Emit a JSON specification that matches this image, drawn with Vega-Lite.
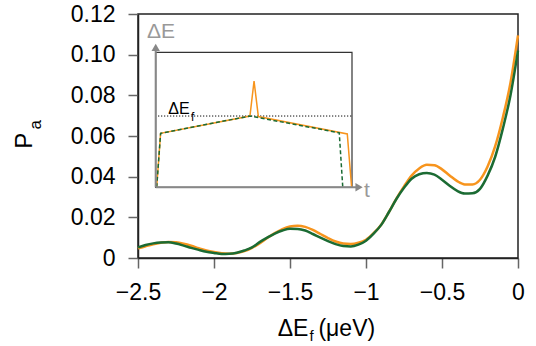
{
  "$schema": "https://vega.github.io/schema/vega-lite/v6.json",
  "width": 380,
  "height": 244,
  "autosize": {"type": "none"},
  "padding": {"left": 138, "top": 14, "right": 18, "bottom": 88},
  "background": "white",
  "config": {
    "font": "Liberation Sans",
    "view": {"stroke": "#222", "strokeWidth": 1.5},
    "axis": {
      "grid": false,
      "domainColor": "#222",
      "domainWidth": 1.5,
      "tickColor": "#666",
      "tickWidth": 1.5,
      "tickSize": 10,
      "labelFont": "Liberation Sans",
      "labelFontSize": 23,
      "labelColor": "#000",
      "labelPadding": 13,
      "labelFlush": false,
      "labelOverlap": false
    },
    "text": {"font": "Liberation Sans"}
  },
  "datasets": {
    "curves": [
      {"dEf": -2.50, "Pa_orange": 0.0047, "Pa_green": 0.0052},
      {"dEf": -2.45, "Pa_orange": 0.0058, "Pa_green": 0.0064},
      {"dEf": -2.40, "Pa_orange": 0.0068, "Pa_green": 0.0072},
      {"dEf": -2.35, "Pa_orange": 0.0075, "Pa_green": 0.0076},
      {"dEf": -2.30, "Pa_orange": 0.0079, "Pa_green": 0.0077},
      {"dEf": -2.25, "Pa_orange": 0.0077, "Pa_green": 0.0071},
      {"dEf": -2.20, "Pa_orange": 0.0070, "Pa_green": 0.0061},
      {"dEf": -2.15, "Pa_orange": 0.0060, "Pa_green": 0.0050},
      {"dEf": -2.10, "Pa_orange": 0.0048, "Pa_green": 0.0040},
      {"dEf": -2.05, "Pa_orange": 0.0037, "Pa_green": 0.0031},
      {"dEf": -2.00, "Pa_orange": 0.0029, "Pa_green": 0.0025},
      {"dEf": -1.95, "Pa_orange": 0.0023, "Pa_green": 0.0020},
      {"dEf": -1.90, "Pa_orange": 0.0021, "Pa_green": 0.0021},
      {"dEf": -1.85, "Pa_orange": 0.0025, "Pa_green": 0.0026},
      {"dEf": -1.80, "Pa_orange": 0.0034, "Pa_green": 0.0037},
      {"dEf": -1.75, "Pa_orange": 0.0050, "Pa_green": 0.0052},
      {"dEf": -1.70, "Pa_orange": 0.0072, "Pa_green": 0.0078},
      {"dEf": -1.65, "Pa_orange": 0.0098, "Pa_green": 0.0100},
      {"dEf": -1.60, "Pa_orange": 0.0122, "Pa_green": 0.0120},
      {"dEf": -1.55, "Pa_orange": 0.0142, "Pa_green": 0.0135},
      {"dEf": -1.50, "Pa_orange": 0.0155, "Pa_green": 0.0144},
      {"dEf": -1.45, "Pa_orange": 0.0159, "Pa_green": 0.0143},
      {"dEf": -1.40, "Pa_orange": 0.0153, "Pa_green": 0.0135},
      {"dEf": -1.35, "Pa_orange": 0.0138, "Pa_green": 0.0118},
      {"dEf": -1.30, "Pa_orange": 0.0118, "Pa_green": 0.0100},
      {"dEf": -1.25, "Pa_orange": 0.0098, "Pa_green": 0.0083},
      {"dEf": -1.20, "Pa_orange": 0.0081, "Pa_green": 0.0068},
      {"dEf": -1.15, "Pa_orange": 0.0071, "Pa_green": 0.0059},
      {"dEf": -1.10, "Pa_orange": 0.0069, "Pa_green": 0.0057},
      {"dEf": -1.05, "Pa_orange": 0.0075, "Pa_green": 0.0066},
      {"dEf": -1.00, "Pa_orange": 0.0090, "Pa_green": 0.0085},
      {"dEf": -0.95, "Pa_orange": 0.0122, "Pa_green": 0.0120},
      {"dEf": -0.90, "Pa_orange": 0.0164, "Pa_green": 0.0163},
      {"dEf": -0.85, "Pa_orange": 0.0225, "Pa_green": 0.0225},
      {"dEf": -0.80, "Pa_orange": 0.0292, "Pa_green": 0.0290},
      {"dEf": -0.75, "Pa_orange": 0.0352, "Pa_green": 0.0345},
      {"dEf": -0.70, "Pa_orange": 0.0405, "Pa_green": 0.0390},
      {"dEf": -0.65, "Pa_orange": 0.0440, "Pa_green": 0.0412},
      {"dEf": -0.60, "Pa_orange": 0.0458, "Pa_green": 0.0418},
      {"dEf": -0.55, "Pa_orange": 0.0456, "Pa_green": 0.0410},
      {"dEf": -0.50, "Pa_orange": 0.0436, "Pa_green": 0.0385},
      {"dEf": -0.45, "Pa_orange": 0.0406, "Pa_green": 0.0355},
      {"dEf": -0.40, "Pa_orange": 0.0378, "Pa_green": 0.0330},
      {"dEf": -0.35, "Pa_orange": 0.0362, "Pa_green": 0.0317},
      {"dEf": -0.30, "Pa_orange": 0.0362, "Pa_green": 0.0318},
      {"dEf": -0.25, "Pa_orange": 0.0385, "Pa_green": 0.0340},
      {"dEf": -0.20, "Pa_orange": 0.0450, "Pa_green": 0.0405},
      {"dEf": -0.15, "Pa_orange": 0.0550, "Pa_green": 0.0498},
      {"dEf": -0.10, "Pa_orange": 0.0690, "Pa_green": 0.0635},
      {"dEf": -0.05, "Pa_orange": 0.0860, "Pa_green": 0.0798},
      {"dEf": 0.00, "Pa_orange": 0.1095, "Pa_green": 0.1020}
    ],
    "pulse": [
      {"trace": "orange", "i": 0, "t": 0.005, "dE": 0.0},
      {"trace": "orange", "i": 1, "t": 0.025, "dE": 0.40},
      {"trace": "orange", "i": 2, "t": 0.480, "dE": 0.528},
      {"trace": "orange", "i": 3, "t": 0.501, "dE": 0.787},
      {"trace": "orange", "i": 4, "t": 0.523, "dE": 0.524},
      {"trace": "orange", "i": 5, "t": 0.976, "dE": 0.395},
      {"trace": "orange", "i": 6, "t": 0.998, "dE": 0.0},
      {"trace": "green", "i": 0, "t": 0.005, "dE": 0.0},
      {"trace": "green", "i": 1, "t": 0.025, "dE": 0.40},
      {"trace": "green", "i": 2, "t": 0.480, "dE": 0.528},
      {"trace": "green", "i": 3, "t": 0.935, "dE": 0.404},
      {"trace": "green", "i": 4, "t": 0.953, "dE": 0.0}
    ]
  },
  "layer": [
    {
      "layer": [
        {
          "data": {"name": "curves"},
          "mark": {"type": "line", "color": "#F7941D", "strokeWidth": 2.5, "interpolate": "monotone"},
          "encoding": {
            "x": {
              "field": "dEf", "type": "quantitative",
              "scale": {"domain": [-2.5, 0], "nice": false, "zero": false},
              "axis": {"title": null, "values": [-2.5, -2, -1.5, -1, -0.5, 0],
                       "labelExpr": "datum.value == 0 ? '0' : replace(format(datum.value, '.1~f'), '-', '\u2212')"}
            },
            "y": {
              "field": "Pa_orange", "type": "quantitative",
              "scale": {"domain": [0, 0.12], "nice": false, "zero": false},
              "axis": {"title": null, "values": [0, 0.02, 0.04, 0.06, 0.08, 0.1, 0.12],
                       "labelExpr": "datum.value == 0 ? '0' : format(datum.value, '.2f')"}
            }
          }
        },
        {
          "data": {"name": "curves"},
          "mark": {"type": "line", "color": "#1B6B33", "strokeWidth": 2.5, "interpolate": "monotone"},
          "encoding": {
            "x": {"field": "dEf", "type": "quantitative", "title": null},
            "y": {"field": "Pa_green", "type": "quantitative", "title": null}
          }
        },
        {
          "data": {"values": [{"label": "P"}]},
          "mark": {"type": "text", "fontSize": 24, "angle": 270, "align": "center", "baseline": "middle", "color": "#000"},
          "encoding": {
            "x": {"datum": -3.245, "type": "quantitative", "title": null},
            "y": {"datum": 0.0577, "type": "quantitative", "title": null},
            "text": {"field": "label"}
          }
        },
        {
          "data": {"values": [{"label": "a"}]},
          "mark": {"type": "text", "fontSize": 17, "angle": 270, "align": "center", "baseline": "middle", "color": "#000"},
          "encoding": {
            "x": {"datum": -3.172, "type": "quantitative", "title": null},
            "y": {"datum": 0.0655, "type": "quantitative", "title": null},
            "text": {"field": "label"}
          }
        },
        {
          "data": {"values": [{"label": "\u0394E"}]},
          "mark": {"type": "text", "fontSize": 23, "align": "right", "baseline": "alphabetic", "color": "#000"},
          "encoding": {
            "x": {"datum": -1.379, "type": "quantitative", "title": null},
            "y": {"datum": -0.0385, "type": "quantitative", "title": null},
            "text": {"field": "label"}
          }
        },
        {
          "data": {"values": [{"label": "f"}]},
          "mark": {"type": "text", "fontSize": 15, "align": "left", "baseline": "alphabetic", "color": "#000"},
          "encoding": {
            "x": {"datum": -1.372, "type": "quantitative", "title": null},
            "y": {"datum": -0.041, "type": "quantitative", "title": null},
            "text": {"field": "label"}
          }
        },
        {
          "data": {"values": [{"label": "(\u03bceV)"}]},
          "mark": {"type": "text", "fontSize": 23, "align": "left", "baseline": "alphabetic", "color": "#000"},
          "encoding": {
            "x": {"datum": -1.313, "type": "quantitative", "title": null},
            "y": {"datum": -0.0385, "type": "quantitative", "title": null},
            "text": {"field": "label"}
          }
        }
      ]
    },
    {
      "layer": [
        {
          "data": {"values": [{"t0": 0, "t1": 1, "e0": 0, "e1": 1}]},
          "mark": {"type": "rect", "fill": "white", "stroke": "#333", "strokeWidth": 1.2},
          "encoding": {
            "x": {"field": "t0", "type": "quantitative", "axis": null,
                  "scale": {"domain": [0, 1], "range": [17.7, 214], "nice": false, "zero": false}},
            "x2": {"field": "t1"},
            "y": {"field": "e0", "type": "quantitative", "axis": null,
                  "scale": {"domain": [0, 1], "range": [173.3, 38.3], "nice": false, "zero": false}},
            "y2": {"field": "e1"}
          }
        },
        {
          "data": {"values": [{"level": 0.528}]},
          "mark": {"type": "rule", "color": "#000", "strokeWidth": 1, "strokeDash": [1.2, 1.8]},
          "encoding": {
            "x": {"datum": 0.012, "type": "quantitative", "axis": null},
            "x2": {"datum": 1},
            "y": {"field": "level", "type": "quantitative", "axis": null}
          }
        },
        {
          "data": {"name": "pulse"},
          "transform": [{"filter": "datum.trace == 'orange'"}],
          "mark": {"type": "line", "color": "#F7941D", "strokeWidth": 1.5},
          "encoding": {
            "x": {"field": "t", "type": "quantitative", "axis": null},
            "y": {"field": "dE", "type": "quantitative", "axis": null},
            "order": {"field": "i"}
          }
        },
        {
          "data": {"name": "pulse"},
          "transform": [{"filter": "datum.trace == 'green'"}],
          "mark": {"type": "line", "color": "#1B6B33", "strokeWidth": 1.5, "strokeDash": [4, 2.5]},
          "encoding": {
            "x": {"field": "t", "type": "quantitative", "axis": null},
            "y": {"field": "dE", "type": "quantitative", "axis": null},
            "order": {"field": "i"}
          }
        },
        {
          "data": {"values": [{"axis": "time", "a0": 0, "a1": 1.03, "b": 0}]},
          "mark": {"type": "rule", "color": "#888", "strokeWidth": 2},
          "encoding": {
            "x": {"field": "a0", "type": "quantitative", "axis": null},
            "x2": {"field": "a1"},
            "y": {"field": "b", "type": "quantitative", "axis": null}
          }
        },
        {
          "data": {"values": [{"axis": "energy", "a0": 0, "a1": 1.03, "b": 0}]},
          "mark": {"type": "rule", "color": "#888", "strokeWidth": 2},
          "encoding": {
            "y": {"field": "a0", "type": "quantitative", "axis": null},
            "y2": {"field": "a1"},
            "x": {"field": "b", "type": "quantitative", "axis": null}
          }
        },
        {
          "data": {"values": [{"t": 1.036, "dE": 0}]},
          "mark": {"type": "point", "shape": "triangle-right", "filled": true, "color": "#888", "size": 70, "opacity": 1},
          "encoding": {
            "x": {"field": "t", "type": "quantitative", "axis": null},
            "y": {"field": "dE", "type": "quantitative", "axis": null}
          }
        },
        {
          "data": {"values": [{"t": 0, "dE": 1.036}]},
          "mark": {"type": "point", "shape": "triangle-up", "filled": true, "color": "#888", "size": 70, "opacity": 1},
          "encoding": {
            "x": {"field": "t", "type": "quantitative", "axis": null},
            "y": {"field": "dE", "type": "quantitative", "axis": null}
          }
        },
        {
          "data": {"values": [{"label": "\u0394E", "t": 0.027, "dE": 1.108}]},
          "mark": {"type": "text", "fontSize": 21, "align": "center", "baseline": "alphabetic", "color": "#999"},
          "encoding": {
            "x": {"field": "t", "type": "quantitative", "axis": null},
            "y": {"field": "dE", "type": "quantitative", "axis": null},
            "text": {"field": "label"}
          }
        },
        {
          "data": {"values": [{"label": "t", "t": 1.061, "dE": -0.07}]},
          "mark": {"type": "text", "fontSize": 21, "align": "left", "baseline": "alphabetic", "color": "#999"},
          "encoding": {
            "x": {"field": "t", "type": "quantitative", "axis": null},
            "y": {"field": "dE", "type": "quantitative", "axis": null},
            "text": {"field": "label"}
          }
        },
        {
          "data": {"values": [{"label": "\u0394E", "t": 0.064, "dE": 0.541}]},
          "mark": {"type": "text", "fontSize": 16, "align": "left", "baseline": "alphabetic", "color": "#000"},
          "encoding": {
            "x": {"field": "t", "type": "quantitative", "axis": null},
            "y": {"field": "dE", "type": "quantitative", "axis": null},
            "text": {"field": "label"}
          }
        },
        {
          "data": {"values": [{"label": "f", "t": 0.18, "dE": 0.49}]},
          "mark": {"type": "text", "fontSize": 12, "align": "left", "baseline": "alphabetic", "color": "#000"},
          "encoding": {
            "x": {"field": "t", "type": "quantitative", "axis": null},
            "y": {"field": "dE", "type": "quantitative", "axis": null},
            "text": {"field": "label"}
          }
        }
      ]
    }
  ],
  "resolve": {"scale": {"x": "independent", "y": "independent"}}
}
